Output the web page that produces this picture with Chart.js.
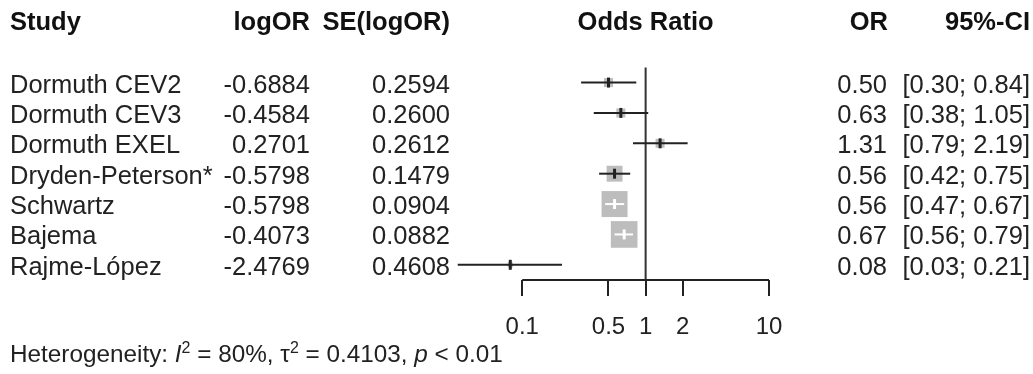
<!DOCTYPE html>
<html>
<head>
<meta charset="utf-8">
<script src="https://cdn.jsdelivr.net/npm/chart.js@4"></script>
<style>
  html, body { margin: 0; padding: 0; background: #fff; }
  #wrap { position: relative; width: 1033px; height: 374px; overflow: hidden; }
  #chart { position: absolute; left: 0; top: 0; }
  .cell {
    position: absolute;
    font-family: "Liberation Sans", Arial, sans-serif;
    font-size: 25.5px;
    line-height: 28px;
    height: 28px;
    color: #222;
    white-space: nowrap;
  }
  .head { font-weight: bold; color: #111; }
  .foot { font-size: 24.3px; }
  .cell sup { font-size: 16px; line-height: 0; vertical-align: 9px; }
</style>
</head>
<body>
<div id="wrap">
  <canvas id="chart" width="1033" height="374"></canvas>
</div>
<script>
// study data
const studies = ["Dormuth CEV2", "Dormuth CEV3", "Dormuth EXEL", "Dryden-Peterson*", "Schwartz", "Bajema", "Rajme-López"];
const logOR = [-0.6884, -0.4584, 0.2701, -0.5798, -0.5798, -0.4073, -2.4769];
const seLogOR = [0.2594, 0.2600, 0.2612, 0.1479, 0.0904, 0.0882, 0.4608];
const oddsRatio = [0.50, 0.63, 1.31, 0.56, 0.56, 0.67, 0.08];
const ciLower = [0.30, 0.38, 0.79, 0.42, 0.47, 0.56, 0.03];
const ciUpper = [0.84, 1.05, 2.19, 0.75, 0.67, 0.79, 0.21];
const xTicks = [0.1, 0.5, 1, 2, 10];
const headers = ["Study", "logOR", "SE(logOR)", "Odds Ratio", "OR", "95%-CI"];
const heterogeneity = ["80%", "0.4103", "< 0.01"];

const nullValue = 1;
const axisRow = studies.length - 0.5;

// box side in px is proportional to 1/SE (inverse-variance weight)
function boxSide(i) { return 2.35 / seLogOR[i]; }

function ciColor(i, chart) {
  const x = chart.scales.x;
  const half = boxSide(i) / 2;
  const c = x.getPixelForValue(oddsRatio[i]);
  const inside = x.getPixelForValue(ciLower[i]) >= c - half && x.getPixelForValue(ciUpper[i]) <= c + half;
  return inside ? "#ffffff" : "#222222";
}

const ciSets = studies.map((s, i) => ({
  type: "line",
  data: [{ x: ciLower[i], y: i }, { x: ciUpper[i], y: i }],
  borderColor: (ctx) => ciColor(i, ctx.chart),
  borderWidth: 2,
  pointRadius: 0,
  clip: false,
  order: 3,
}));

const datasets = [
  {
    // reference line at OR = 1
    type: "line",
    data: [{ x: nullValue, y: -0.5 }, { x: nullValue, y: axisRow }],
    borderColor: "#333",
    borderWidth: 2,
    pointRadius: 0,
    clip: false,
    order: 6,
  },
  {
    // weight boxes
    type: "scatter",
    data: studies.map((s, i) => ({ x: oddsRatio[i], y: i })),
    pointStyle: "rect",
    pointRadius: studies.map((s, i) => boxSide(i) / Math.SQRT2),
    backgroundColor: "#bdbdbd",
    borderWidth: 0,
    clip: false,
    order: 5,
  },
  ...ciSets,
  {
    // estimate marks
    type: "scatter",
    data: studies.map((s, i) => ({ x: oddsRatio[i], y: i })),
    pointStyle: "line",
    rotation: 90,
    pointRadius: 5,
    borderWidth: 3,
    borderColor: (ctx) => ciColor(ctx.dataIndex, ctx.chart),
    clip: false,
    order: 2,
  },
  {
    // x axis line, drawn only from the first to the last tick
    type: "line",
    data: [{ x: xTicks[0], y: axisRow }, { x: xTicks[xTicks.length - 1], y: axisRow }],
    borderColor: "#222",
    borderWidth: 2,
    pointRadius: 0,
    clip: false,
    order: 1,
  },
];

Chart.defaults.font.family = "'Liberation Sans', Arial, sans-serif";

const chart = new Chart(document.getElementById("chart"), {
  type: "scatter",
  data: { datasets: datasets },
  options: {
    responsive: false,
    animation: false,
    events: [],
    layout: { padding: { left: 436, right: 264, top: 20, bottom: 16 } },
    plugins: { legend: { display: false }, tooltip: { enabled: false } },
    scales: {
      x: {
        type: "logarithmic",
        min: 0.02,
        max: 10,
        afterBuildTicks: (scale) => {
          scale.ticks = xTicks.map((v) => ({ value: v }));
        },
        border: { display: false },
        grid: {
          drawOnChartArea: false,
          drawTicks: true,
          tickLength: 16,
          color: "#222",
          lineWidth: 2,
        },
        ticks: {
          autoSkip: false,
          maxRotation: 0,
          padding: 19,
          color: "#222",
          font: { size: 24, lineHeight: 1 },
          callback: (v) => String(v),
        },
      },
      y: {
        type: "linear",
        display: false,
        reverse: true,
        min: -2.06,
        max: axisRow,
      },
    },
  },
});

// table text beside the plot, aligned with the chart rows
const wrap = document.getElementById("wrap");
function cell(text, x, y, align, cls) {
  const d = document.createElement("div");
  d.className = "cell" + (cls ? " " + cls : "");
  d.innerHTML = text;
  d.style.top = (y - 14) + "px";
  if (align === "right") d.style.right = (1033 - x) + "px";
  else if (align === "center") { d.style.left = (x - 100) + "px"; d.style.width = "200px"; d.style.textAlign = "center"; }
  else d.style.left = x + "px";
  wrap.appendChild(d);
}

const yScale = chart.scales.y;
const xScale = chart.scales.x;
const headY = 21;
cell(headers[0], 10, headY, "left", "head");
cell(headers[1], 310, headY, "right", "head");
cell(headers[2], 450, headY, "right", "head");
cell(headers[3], xScale.getPixelForValue(nullValue), headY, "center", "head");
cell(headers[4], 888, headY, "right", "head");
cell(headers[5], 1030, headY, "right", "head");

studies.forEach((s, i) => {
  const y = yScale.getPixelForValue(i) + 1;
  cell(s, 10, y, "left");
  cell(logOR[i].toFixed(4), 310, y, "right");
  cell(seLogOR[i].toFixed(4), 450, y, "right");
  cell(oddsRatio[i].toFixed(2), 887, y, "right");
  cell("[" + ciLower[i].toFixed(2) + "; " + ciUpper[i].toFixed(2) + "]", 1030, y, "right");
});

cell("Heterogeneity: <i>I</i><sup>2</sup> = " + heterogeneity[0] + ", \u03c4<sup>2</sup> = " + heterogeneity[1] +
  ", <i>p</i> " + heterogeneity[2].replace("<", "&lt;"), 10, 354, "left", "foot");
</script>
</body>
</html>
